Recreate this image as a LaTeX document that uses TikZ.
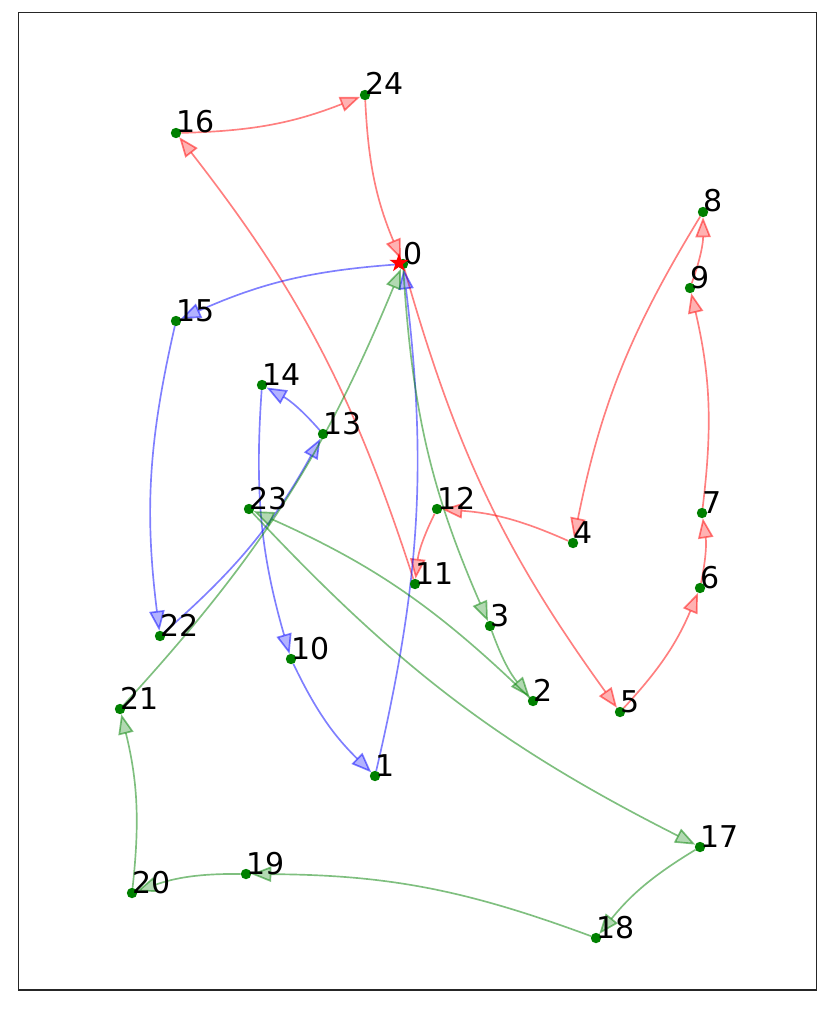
\documentclass[tikz,border=0pt]{standalone}
\usepackage{fontspec}
\setmainfont{DejaVu Sans}
\usetikzlibrary{arrows.meta,shapes.geometric}
\definecolor{dotgreen}{RGB}{0,128,0}
\definecolor{ered}{RGB}{255,0,0}
\definecolor{eblue}{RGB}{0,0,255}
\definecolor{egreen}{RGB}{0,128,0}
\begin{document}
\begin{tikzpicture}[x=0.75pt,y=-0.75pt,
  vtx/.style={circle,draw=none,minimum size=7.5pt,inner sep=0pt},
  lbl/.style={anchor=base west,inner sep=0pt,font=\fontsize{22.5}{26}\selectfont},
  edgebase/.style={line width=1.25pt,draw opacity=0.5,fill opacity=0.3},
  redE/.style={edgebase,draw=ered,-{Triangle[length=15pt,width=11.5pt,fill=ered]}},
  blueE/.style={edgebase,draw=eblue,-{Triangle[length=15pt,width=11.5pt,fill=eblue]}},
  greenE/.style={edgebase,draw=egreen,-{Triangle[length=15pt,width=11.5pt,fill=egreen]}},
  bnd/.style={bend right=10}]
\useasboundingbox (0,0) rectangle (830,1009);
\draw[line width=0.8pt,black!85] (18.5,12.7) rectangle (816.7,990);
\foreach \n/\x/\y in {0/403/264,1/375/776,2/533/701,3/490/626,4/573/543,5/620/712,
  6/700/588,7/702/513,8/703/212,9/690/288,10/291/659,11/415/584,12/437/509,
  13/323/434,14/262/385,15/176/321,16/176/133,17/700/847,18/596/938,19/246/874,
  20/132/893,21/120/709,22/160/636,23/249/509,24/365/95}
  \node[vtx] (n\n) at (\x,\y) {};
% red tour
\draw[redE] (n0) to[bnd] (n5);
\draw[redE] (n5) to[bnd] (n6);
\draw[redE] (n6) to[bnd] (n7);
\draw[redE] (n7) to[bnd] (n9);
\draw[redE] (n9) to[bnd] (n8);
\draw[redE] (n8) to[bnd] (n4);
\draw[redE] (n4) to[bnd] (n12);
\draw[redE] (n12) to[bnd] (n11);
\draw[redE] (n11) to[bnd] (n16);
\draw[redE] (n16) to[bnd] (n24);
\draw[redE] (n24) to[bnd] (n0);
% blue tour
\draw[blueE] (n0) to[bnd] (n15);
\draw[blueE] (n15) to[bnd] (n22);
\draw[blueE] (n22) to[bnd] (n13);
\draw[blueE] (n13) to[bnd] (n14);
\draw[blueE] (n14) to[bnd] (n10);
\draw[blueE] (n10) to[bnd] (n1);
\draw[blueE] (n1) to[bnd] (n0);
% green tour
\draw[greenE] (n0) to[bnd] (n3);
\draw[greenE] (n3) to[bnd] (n2);
\draw[greenE] (n2) to[bnd] (n23);
\draw[greenE] (n23) to[bnd] (n17);
\draw[greenE] (n17) to[bnd] (n18);
\draw[greenE] (n18) to[bnd] (n19);
\draw[greenE] (n19) to[bnd] (n20);
\draw[greenE] (n20) to[bnd] (n21);
\draw[greenE] (n21) to[bnd] (n0);
% dots and labels
\foreach \n in {0,...,24} {
  \fill[dotgreen] (n\n.center) circle[radius=3.9pt];
  \node[lbl] (l\n) at (n\n.center) {\n};
}
\node[star,star points=5,star point ratio=2.6,fill=red,draw=none,minimum size=15pt,inner sep=0pt] (depot) at (399,263) {};
\end{tikzpicture}
\end{document}
